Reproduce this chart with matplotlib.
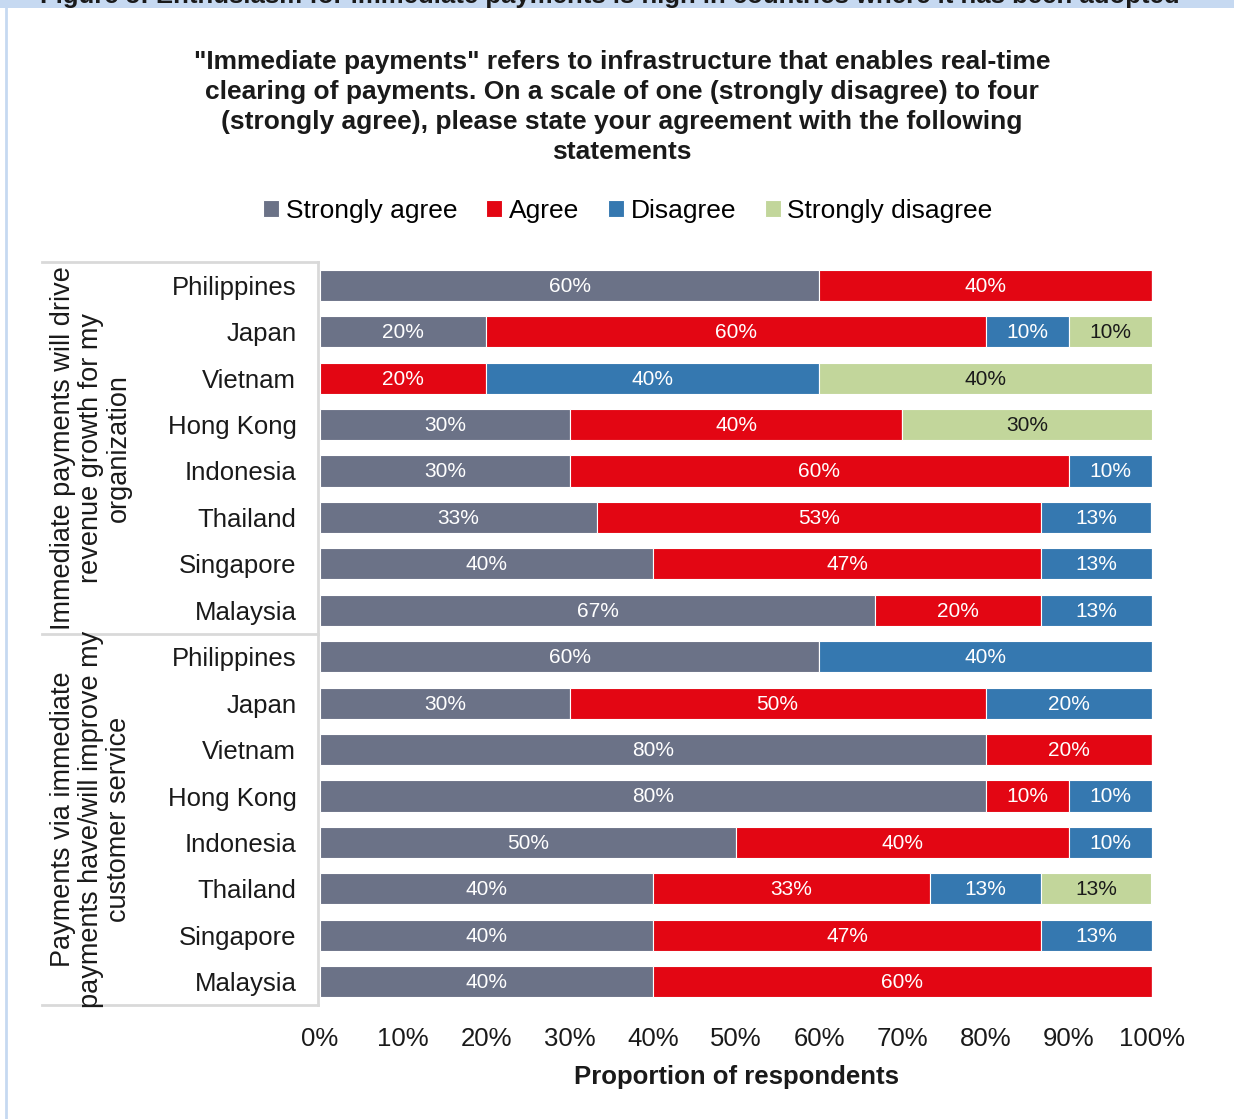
import matplotlib
matplotlib.use("Agg")
import matplotlib.pyplot as plt
from matplotlib.patches import Rectangle
from matplotlib.lines import Line2D
import matplotlib.transforms as mtransforms
import numpy as np

plt.rcParams['font.family'] = ['Liberation Sans', 'DejaVu Sans']

countries = ["Philippines", "Japan", "Vietnam", "Hong Kong", "Indonesia",
             "Thailand", "Singapore", "Malaysia"]
groups = ["Immediate payments will drive\nrevenue growth for my\norganization",
          "Payments via immediate\npayments have/will improve my\ncustomer service"]
series = ["Strongly agree", "Agree", "Disagree", "Strongly disagree"]
colors = ["#6b7287", "#e30613", "#3578b0", "#c2d69b"]
label_colors = ["white", "white", "white", "#1a1a1a"]

# group 1 (revenue growth)
g1_sa = [60, 20, 0, 30, 30, 33.3, 40, 66.7]
g1_a = [40, 60, 20, 40, 60, 53.3, 46.7, 20]
g1_d = [0, 10, 40, 0, 10, 13.3, 13.3, 13.3]
g1_sd = [0, 10, 40, 30, 0, 0, 0, 0]
# group 2 (customer service)
g2_sa = [60, 30, 80, 80, 50, 40, 40, 40]
g2_a = [0, 50, 20, 10, 40, 33.3, 46.7, 60]
g2_d = [40, 20, 0, 10, 10, 13.3, 13.3, 0]
g2_sd = [0, 0, 0, 0, 0, 13.3, 0, 0]

xticks = [0, 10, 20, 30, 40, 50, 60, 70, 80, 90, 100]

W, H = 1234, 1119
fig = plt.figure(figsize=(W / 100, H / 100), dpi=100)

# frame decorations
fig.patches.append(Rectangle((0, 1 - 8 / H), 1, 8 / H, transform=fig.transFigure,
                             facecolor="#c6d9f1", edgecolor="none", zorder=0))
fig.lines.append(Line2D([6 / W, 6 / W], [0, 1], transform=fig.transFigure,
                        color="#c6d9f1", lw=2))
fig.text(610 / W, 1 - 3 / H, "Figure 5: Enthusiasm for immediate payments is high in countries where it has been adopted",
         fontsize=18.5, fontweight="bold", va="baseline", ha="center", color="#1a1a1a")

ax = fig.add_axes([320 / W, 1 - 1005 / H, 832 / W, 743 / H])

rows = countries + countries
data = [g1_sa + g2_sa, g1_a + g2_a, g1_d + g2_d, g1_sd + g2_sd]
y = np.arange(len(rows))
left = np.zeros(len(rows))
for k, (name, vals) in enumerate(zip(series, data)):
    vals = np.array(vals, dtype=float)
    ax.barh(y, vals, left=left, height=0.67, color=colors[k], edgecolor="white",
            linewidth=0.8, label=name)
    for yi, (l, v) in enumerate(zip(left, vals)):
        if v > 0:
            ax.text(l + v / 2, yi + 0.02, f"{v:.0f}%", ha="center", va="center",
                    fontsize=15, color=label_colors[k])
    left = left + vals

ax.set_xlim(0, 100)
ax.set_ylim(len(rows) - 0.5, -0.5)
ax.set_yticks(y)
ax.set_yticklabels(rows, fontsize=18.5, color="#1a1a1a")
ax.set_xticks(xticks)
ax.set_xticklabels([f"{t}%" for t in xticks], fontsize=18.5, color="#1a1a1a")
ax.tick_params(axis="y", length=0, pad=17)
ax.tick_params(axis="x", length=0, pad=16)
for s in ax.spines.values():
    s.set_visible(False)
ax.set_xlabel("Proportion of respondents", fontsize=18.5, fontweight="bold",
              labelpad=10, color="#1a1a1a")

# table lines for group labels
trans = mtransforms.blended_transform_factory(ax.transAxes, ax.transData)
x0 = (42 - 320) / 832
x1 = (318 - 320) / 832
lc = "#d9d9d9"
for yy in [-0.5, 7.5, 15.5]:
    ax.add_line(Line2D([x0, x1], [yy, yy], transform=trans, color=lc, lw=2, clip_on=False))
ax.add_line(Line2D([x1, x1], [-0.5, 15.5], transform=trans, color=lc, lw=2, clip_on=False))

gx = (91 - 320) / 832
ax.text(gx, 3.5, groups[0], transform=trans, rotation=90, ha="center", va="center",
        fontsize=19.5, color="#1a1a1a", linespacing=1.1, multialignment="center")
ax.text(gx, 11.5, groups[1], transform=trans, rotation=90, ha="center", va="center",
        fontsize=19.5, color="#1a1a1a", linespacing=1.1, multialignment="center")

# title
fig.text(622 / W, 1 - 107 / H,
         "\"Immediate payments\" refers to infrastructure that enables real-time\n"
         "clearing of payments. On a scale of one (strongly disagree) to four\n"
         "(strongly agree), please state your agreement with the following\n"
         "statements",
         ha="center", va="center", fontsize=19, fontweight="bold", color="#1a1a1a",
         linespacing=1.3)

handles, labels = ax.get_legend_handles_labels()
fig.legend(handles, labels, loc="center", bbox_to_anchor=(628 / W, 1 - 211 / H),
           ncol=4, frameon=False, fontsize=19, handlelength=0.6, handleheight=0.6,
           handletextpad=0.25, columnspacing=1.1)

fig.savefig("out.png", dpi=100)
